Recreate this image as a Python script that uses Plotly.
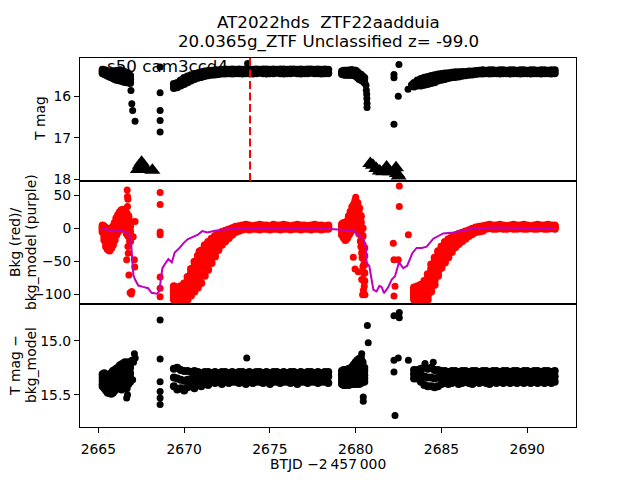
import plotly.graph_objects as go
from plotly.subplots import make_subplots

# ---- time grids of the dense light-curve segments (BTJD - 2457000) ----
t1 = [2665.25, 2665.35, 2665.45, 2665.55, 2665.65, 2665.75, 2665.85, 2665.95, 2666.05, 2666.15,
      2666.25, 2666.35, 2666.45, 2666.55, 2666.65, 2666.75, 2666.85]
t2 = [2669.4, 2669.6, 2669.8, 2670.0, 2670.2, 2670.4, 2670.6, 2670.8, 2671.0, 2671.2,
      2671.4, 2671.6, 2671.8, 2672.0, 2672.2, 2672.4, 2672.6, 2672.8, 2673.0, 2673.2,
      2673.4, 2673.6, 2673.8, 2674.0, 2674.2, 2674.4, 2674.6, 2674.8, 2675.0, 2675.2,
      2675.4, 2675.6, 2675.8, 2676.0, 2676.2, 2676.4, 2676.6, 2676.8, 2677.0, 2677.2,
      2677.4, 2677.6, 2677.8, 2678.0, 2678.2, 2678.4]
t3 = [2679.2, 2679.3, 2679.4, 2679.5, 2679.6, 2679.7, 2679.8, 2679.9, 2680.0, 2680.1,
      2680.2, 2680.3, 2680.4, 2680.5]
t4 = [2683.4, 2683.6, 2683.8, 2684.0, 2684.2, 2684.4, 2684.6, 2684.8, 2685.0, 2685.2,
      2685.4, 2685.6, 2685.8, 2686.0, 2686.2, 2686.4, 2686.6, 2686.8, 2687.0, 2687.2,
      2687.4, 2687.6, 2687.8, 2688.0, 2688.2, 2688.4, 2688.6, 2688.8, 2689.0, 2689.2,
      2689.4, 2689.6, 2689.8, 2690.0, 2690.2, 2690.4, 2690.6, 2690.8, 2691.0, 2691.2,
      2691.4, 2691.6]

# ---- panel 1: T mag ----
mag1_a = [15.36, 15.37, 15.38, 15.40, 15.42, 15.42, 15.41, 15.40, 15.39, 15.38,
          15.37, 15.38, 15.40, 15.42, 15.44, 15.46, 15.50]
mag1_b = [15.40, 15.41, 15.43, 15.45, 15.47, 15.48, 15.49, 15.49, 15.50, 15.49,
          15.50, 15.50, 15.52, 15.54, 15.55, 15.56, 15.59]
mag1_c = [15.44, 15.46, 15.48, 15.50, 15.52, 15.54, 15.56, 15.58, 15.60, 15.60,
          15.62, 15.62, 15.64, 15.65, 15.66, 15.66, 15.68]
mag2_a = [15.70, 15.68, 15.62, 15.56, 15.52, 15.49, 15.46, 15.44, 15.42, 15.40,
          15.39, 15.38, 15.37, 15.37, 15.36, 15.35, 15.36, 15.35, 15.36, 15.35,
          15.36, 15.35, 15.35, 15.36, 15.35, 15.36, 15.35, 15.35, 15.36, 15.35,
          15.36, 15.35, 15.35, 15.36, 15.35, 15.35, 15.36, 15.35, 15.36, 15.35,
          15.35, 15.36, 15.35, 15.36, 15.35, 15.36]
mag2_b = [15.80, 15.78, 15.74, 15.70, 15.66, 15.62, 15.58, 15.55, 15.53, 15.51,
          15.49, 15.48, 15.47, 15.46, 15.45, 15.45, 15.44, 15.45, 15.44, 15.44,
          15.45, 15.44, 15.44, 15.45, 15.44, 15.43, 15.44, 15.45, 15.44, 15.44,
          15.43, 15.44, 15.45, 15.44, 15.44, 15.43, 15.44, 15.45, 15.44, 15.44,
          15.43, 15.44, 15.44, 15.45, 15.44, 15.44]
mag3_a = [15.40, 15.38, 15.38, 15.38, 15.38, 15.37, 15.37, 15.38, 15.38, 15.42,
          15.46, 15.48, 15.52, 15.56]
mag3_b = [15.46, 15.47, 15.48, 15.48, 15.48, 15.48, 15.48, 15.49, 15.50, 15.54,
          15.58, 15.60, 15.62, 15.66]
mag4_a = [15.68, 15.62, 15.58, 15.55, 15.53, 15.51, 15.49, 15.47, 15.46, 15.45,
          15.44, 15.43, 15.42, 15.42, 15.41, 15.41, 15.40, 15.40, 15.39, 15.38,
          15.37, 15.38, 15.37, 15.37, 15.38, 15.37, 15.37, 15.38, 15.37, 15.37,
          15.38, 15.37, 15.37, 15.38, 15.37, 15.37, 15.38, 15.37, 15.37, 15.38,
          15.37, 15.37]
mag4_b = [15.76, 15.74, 15.74, 15.72, 15.70, 15.68, 15.66, 15.62, 15.60, 15.58,
          15.56, 15.54, 15.53, 15.52, 15.50, 15.49, 15.48, 15.47, 15.46, 15.45,
          15.45, 15.44, 15.45, 15.44, 15.44, 15.45, 15.44, 15.44, 15.45, 15.44,
          15.44, 15.45, 15.44, 15.44, 15.45, 15.44, 15.44, 15.45, 15.44, 15.44,
          15.45, 15.44]
mag4_rise = [15.72, 15.68, 15.66, 15.63, 15.61, 15.59, 15.57, 15.55, 15.53, 15.51]
mag_x_extra = [2666.9, 2666.95, 2667.0, 2667.14, 2668.6, 2668.6, 2668.6, 2668.6, 2668.6, 2673.7,
               2680.6, 2680.62, 2680.64, 2680.65, 2680.66, 2680.66, 2682.52, 2682.23, 2682.23,
               2682.48, 2682.23, 2683.05, 2683.25]
mag_y_extra = [15.86, 16.18, 16.34, 16.6, 15.29, 15.91, 16.34, 16.58, 16.86, 15.21,
               15.73, 15.85, 15.95, 16.05, 16.17, 16.27, 15.23, 15.47, 15.55,
               16.0, 16.67, 15.83, 15.72]
lim_x = [2667.3, 2667.42, 2667.52, 2667.62, 2667.72, 2668.15,
         2680.85, 2681.0, 2681.2, 2681.4, 2681.6, 2681.8, 2682.0, 2682.35, 2682.4, 2682.5]
lim_y = [17.76, 17.66, 17.59, 17.66, 17.76, 17.78,
         17.62, 17.66, 17.74, 17.8, 17.82, 17.7, 17.82, 17.72, 17.86, 17.92]
zoom_epoch = 2673.84

# ---- panel 2: background flux (red) and background model (purple) ----
bkg1_a = [4, 2, 0, -2, -5, -3, 2, 8, 15, 20, 24, 27, 28, 26, 22, 18, 10]
bkg1_b = [2, -3, -8, -10, -12, -10, -4, 2, 8, 14, 18, 21, 22, 20, 16, 12, 3]
bkg1_c = [0, -8, -15, -18, -20, -16, -10, -5, 2, 8, 12, 15, 16, 14, 10, 5, -5]
bkg1_d = [-3, -13, -22, -25, -27, -23, -18, -12, -4, 2, 6, 8, 8, 6, 1, -4, -12]
bkg1_e = [-6, -18, -28, -32, -34, -30, -25, -18, -10, -5, 0, 2, 0, -2, -8, -12, -20]
bkg2_a = [-88, -90, -88, -84, -74, -62, -51, -42, -34, -26,
          -21, -16, -12, -9, -6, -4, -2, 0, 2, 3,
          4, 5, 4, 3, 4, 5, 4, 4, 3, 5,
          4, 4, 5, 4, 3, 4, 5, 4, 4, 3,
          4, 5, 4, 4, 3, 4]
bkg2_b = [-95, -96, -95, -92, -85, -75, -64, -55, -46, -38,
          -31, -25, -20, -16, -12, -8, -5, -3, -1, 1,
          2, 3, 2, 2, 3, 2, 2, 3, 2, 2,
          3, 2, 2, 3, 2, 2, 3, 2, 2, 3,
          2, 2, 3, 2, 2, 3]
bkg2_c = [-102, -102, -102, -100, -97, -88, -79, -70, -60, -52,
          -44, -36, -29, -23, -18, -13, -9, -6, -3, -2,
          0, 1, 0, 1, 0, 0, 1, 0, 1, 0,
          0, 1, 0, 1, 0, 0, 1, 0, 1, 0,
          0, 1, 0, 1, 0, 0]
bkg2_d = [-108, -108, -109, -109, -108, -102, -96, -90, -83, -72,
          -63, -53, -43, -33, -25, -20, -15, -10, -6, -4,
          -2, -1, -2, -1, -1, -2, -1, -1, -2, -1,
          -1, -2, -1, -1, -2, -1, -1, -2, -1, -1,
          -2, -1, -1, -2, -1, -1]
# extra rows filling the rising part of segment 2 (first 20 epochs of t2)
bkg2_r1 = [-92, -93, -92, -88, -80, -68, -58, -48, -40, -32, -26, -20, -16, -12, -9, -6, -3, -1, 1, 2]
bkg2_r2 = [-98, -99, -98, -96, -91, -82, -72, -62, -53, -45, -38, -30, -24, -20, -15, -10, -7, -4, -2, 0]
bkg2_r3 = [-105, -105, -106, -105, -103, -95, -88, -80, -72, -62, -54, -45, -36, -28, -22, -17, -12, -8, -5, -3]
bkg3_a = [6, 8, 5, 10, 18, 25, 32, 36, 40, 38, 30, 18, 0, -30]
bkg3_b = [2, 2, 0, 4, 11, 18, 24, 28, 32, 30, 21, 9, -12, -42]
bkg3_c = [-2, -4, -6, -3, 4, 10, 16, 20, 24, 22, 12, 0, -25, -55]
bkg3_d = [-6, -9, -12, -9, -3, 2, 7, 11, 14, 11, 2, -10, -35, -68]
bkg3_e = [-10, -14, -18, -15, -10, -6, -2, 2, 4, 0, -8, -20, -45, -80]
bkg4_a = [-90, -88, -86, -80, -70, -55, -45, -35, -28, -21,
          -17, -14, -11, -9, -7, -5, -3, -1, 1, 2,
          3, 4, 5, 4, 4, 5, 4, 3, 4, 5,
          4, 4, 5, 4, 3, 4, 5, 4, 4, 5,
          4, 4]
bkg4_b = [-96, -95, -94, -90, -82, -68, -58, -47, -38, -30,
          -24, -20, -16, -13, -10, -8, -6, -4, -2, 0,
          1, 3, 2, 3, 3, 2, 3, 3, 2, 3,
          3, 2, 3, 3, 2, 3, 3, 2, 3, 3,
          2, 3]
bkg4_c = [-102, -102, -102, -100, -95, -82, -72, -60, -48, -40,
          -33, -27, -22, -18, -14, -11, -9, -6, -4, -2,
          -1, 1, 1, 0, 1, 1, 0, 1, 1, 0,
          1, 1, 0, 1, 1, 0, 1, 1, 0, 1,
          1, 0]
bkg4_d = [-108, -109, -110, -110, -108, -96, -86, -72, -60, -52,
          -44, -36, -29, -24, -20, -16, -12, -9, -6, -5,
          -4, -1, 0, -1, -1, 0, -1, -1, 0, -1,
          -1, 0, -1, -1, 0, -1, -1, 0, -1, -1,
          0, -1]
# extra rows filling the rising part of segment 4 (first 21 epochs of t4)
bkg4_r1 = [-93, -92, -90, -85, -76, -62, -52, -41, -33, -26, -20, -17, -13, -11, -8, -6, -4, -2, 0, 1, 2]
bkg4_r2 = [-99, -98, -98, -95, -88, -75, -65, -54, -43, -35, -28, -23, -19, -15, -12, -10, -7, -5, -3, -1, 0]
bkg4_r3 = [-105, -106, -106, -105, -102, -89, -79, -66, -54, -46, -38, -31, -25, -21, -17, -13, -10, -8, -5, -3, -2]
bkg_x_extra = [2666.68, 2666.7, 2666.72, 2666.7, 2666.72, 2666.74, 2666.65, 2666.78, 2666.85, 2666.92,
               2666.95, 2667.03, 2667.14, 2667.1, 2667.12,
               2668.6, 2668.6, 2668.6, 2668.6, 2668.6, 2668.6, 2668.6, 2670.87,
               2679.95, 2680.0, 2679.86, 2679.96, 2680.15, 2680.35, 2680.45, 2680.4, 2680.54, 2680.5,
               2680.3, 2680.35, 2680.42, 2680.48,
               2682.19, 2682.23, 2682.48, 2682.29, 2682.23, 2682.54, 2682.54, 2683.07, 2685.59]
bkg_y_extra = [58, 48, 44, 33, -28, -38, -48, -71, -98, -100,
               -96, -13, 10, -48, -59,
               54, 36, -6, -10, -74, -91, -104, -35,
               42, 47, -44, -62, -66, -78, -94, -101, -101, -88,
               -28, -38, -58, -68,
               -23, -48, -48, -88, -103, 64, 33, -10, -13]
model_t = [2665.2, 2665.5, 2665.8, 2666.0, 2666.2, 2666.4, 2666.6, 2666.8, 2666.9, 2666.98,
           2667.04, 2667.14, 2667.33, 2667.6, 2667.9, 2668.1, 2668.4, 2668.55, 2668.63, 2668.73,
           2668.89, 2669.08, 2669.28, 2669.45, 2669.7, 2669.95, 2670.2, 2670.45, 2670.8, 2671.05,
           2671.35, 2671.8, 2672.5, 2673.0, 2674.0, 2675.0, 2676.0, 2677.0, 2678.0, 2678.5,
           2679.18, 2679.86, 2680.25, 2680.44, 2680.58, 2680.64, 2680.79, 2680.89, 2681.03, 2681.22,
           2681.38, 2681.52, 2681.65, 2681.9, 2682.1, 2682.29, 2682.52, 2682.77, 2683.0, 2683.3,
           2683.55, 2683.85, 2684.14, 2684.52, 2685.1, 2685.69, 2686.27, 2686.85, 2688.2, 2689.57,
           2691.6]
model_v = [0, -1.5, -4, -5, -3.5, -4, -7.5, -8.5, -20, -53,
           -71, -78, -87, -89, -91, -98, -99.5, -96, -78, -61,
           -54, -47, -52, -37, -31, -23, -17, -14, -10, -4.5,
           -6.5, -4, -1.5, -1, -0.5, 0, 0.5, 0, -0.5, -1,
           -2.6, -4, -11.7, -16.7, -28, -53, -57, -71, -93.5, -96,
           -87.4, -89.4, -98.5, -89.4, -78, -73, -52, -60.6, -57, -38,
           -30, -30, -28, -16, -8, -6.5, -3, -0.5, 1, 0.5,
           0]

# ---- panel 3: T mag - bkg_model ----
cor1_a = [15.31, 15.30, 15.32, 15.33, 15.32, 15.30, 15.28, 15.27, 15.26, 15.25,
          15.23, 15.22, 15.21, 15.20, 15.21, 15.20, 15.21]
cor1_b = [15.34, 15.35, 15.36, 15.37, 15.37, 15.35, 15.33, 15.31, 15.30, 15.29,
          15.27, 15.27, 15.26, 15.25, 15.26, 15.25, 15.25]
cor1_c = [15.37, 15.38, 15.40, 15.41, 15.41, 15.40, 15.38, 15.36, 15.34, 15.33,
          15.32, 15.32, 15.31, 15.30, 15.31, 15.30, 15.30]
cor1_d = [15.40, 15.41, 15.43, 15.45, 15.44, 15.45, 15.43, 15.41, 15.39, 15.38,
          15.38, 15.39, 15.37, 15.36, 15.38, 15.35, 15.34]
cor1_e = [15.42, 15.44, 15.46, 15.48, 15.48, 15.49, 15.48, 15.46, 15.44, 15.44,
          15.43, 15.45, 15.44, 15.42, 15.44, 15.40, 15.38]
cor2_a = [15.26, 15.25, 15.27, 15.28, 15.28, 15.29, 15.28, 15.29, 15.30, 15.29,
          15.29, 15.30, 15.29, 15.30, 15.29, 15.29, 15.30, 15.29, 15.30, 15.29,
          15.29, 15.30, 15.29, 15.30, 15.29, 15.29, 15.30, 15.29, 15.30, 15.29,
          15.29, 15.30, 15.29, 15.30, 15.29, 15.29, 15.30, 15.29, 15.30, 15.29,
          15.29, 15.30, 15.29, 15.30, 15.29, 15.29]
cor2_b = [15.34, 15.35, 15.36, 15.37, 15.36, 15.36, 15.35, 15.34, 15.34, 15.35,
          15.34, 15.34, 15.33, 15.34, 15.34, 15.33, 15.34, 15.34, 15.33, 15.34,
          15.34, 15.33, 15.34, 15.34, 15.33, 15.34, 15.34, 15.33, 15.34, 15.34,
          15.33, 15.34, 15.34, 15.33, 15.34, 15.34, 15.33, 15.34, 15.34, 15.33,
          15.34, 15.34, 15.33, 15.34, 15.34, 15.33]
cor2_c = [15.42, 15.45, 15.44, 15.46, 15.43, 15.41, 15.44, 15.40, 15.42, 15.39,
          15.41, 15.38, 15.39, 15.38, 15.40, 15.38, 15.39, 15.38, 15.38, 15.39,
          15.38, 15.40, 15.38, 15.39, 15.38, 15.38, 15.39, 15.38, 15.40, 15.38,
          15.38, 15.39, 15.38, 15.38, 15.39, 15.38, 15.40, 15.38, 15.38, 15.39,
          15.38, 15.38, 15.39, 15.38, 15.38, 15.39]
cor3_a = [15.28, 15.27, 15.27, 15.27, 15.26, 15.26, 15.24, 15.22, 15.20, 15.18,
          15.17, 15.16, 15.20, 15.25]
cor3_b = [15.31, 15.30, 15.30, 15.30, 15.29, 15.29, 15.28, 15.26, 15.25, 15.24,
          15.22, 15.22, 15.25, 15.28]
cor3_c = [15.34, 15.34, 15.34, 15.33, 15.33, 15.33, 15.32, 15.31, 15.30, 15.30,
          15.28, 15.28, 15.30, 15.32]
cor3_d = [15.37, 15.38, 15.37, 15.37, 15.37, 15.37, 15.36, 15.35, 15.35, 15.34,
          15.34, 15.33, 15.34, 15.35]
cor3_e = [15.40, 15.41, 15.41, 15.40, 15.41, 15.40, 15.40, 15.40, 15.40, 15.39,
          15.40, 15.39, 15.38, 15.38]
cor4_a = [15.27, 15.27, 15.26, 15.25, 15.26, 15.25, 15.27, 15.27, 15.28, 15.28,
          15.29, 15.28, 15.28, 15.29, 15.28, 15.28, 15.29, 15.28, 15.28, 15.29,
          15.28, 15.28, 15.29, 15.28, 15.28, 15.29, 15.28, 15.28, 15.29, 15.28,
          15.28, 15.29, 15.28, 15.28, 15.29, 15.28, 15.28, 15.29, 15.28, 15.28,
          15.29, 15.28]
cor4_b = [15.31, 15.31, 15.32, 15.33, 15.34, 15.34, 15.35, 15.34, 15.34, 15.33,
          15.34, 15.33, 15.34, 15.34, 15.33, 15.34, 15.34, 15.33, 15.34, 15.34,
          15.33, 15.34, 15.34, 15.33, 15.34, 15.34, 15.33, 15.34, 15.34, 15.33,
          15.34, 15.34, 15.33, 15.34, 15.34, 15.33, 15.34, 15.34, 15.33, 15.34,
          15.34, 15.33]
cor4_c = [15.35, 15.35, 15.38, 15.41, 15.42, 15.42, 15.43, 15.42, 15.40, 15.39,
          15.40, 15.39, 15.38, 15.40, 15.39, 15.38, 15.39, 15.40, 15.38, 15.39,
          15.38, 15.39, 15.40, 15.38, 15.39, 15.38, 15.39, 15.38, 15.39, 15.38,
          15.39, 15.38, 15.39, 15.38, 15.39, 15.38, 15.39, 15.38, 15.39, 15.38,
          15.39, 15.38]
cor_x_extra = [2666.95, 2667.05, 2667.1, 2667.15, 2666.65, 2666.7, 2667.0,
               2668.6, 2668.6, 2668.6, 2668.6, 2668.6, 2668.6, 2673.65,
               2680.35, 2680.73, 2680.68, 2680.44, 2680.44,
               2682.23, 2682.54, 2682.54, 2682.23, 2682.48, 2682.23, 2682.29, 2683.07,
               2684.04, 2684.52]
cor_y_extra = [15.18, 15.2, 15.12, 15.16, 15.53, 15.5, 15.36,
               14.81, 15.17, 15.38, 15.47, 15.53, 15.59, 15.16,
               15.12, 15.02, 14.86, 15.52, 15.56,
               14.77, 14.74, 14.79, 15.18, 15.16, 15.29, 15.69, 15.18,
               15.21, 15.2]


def band(pieces):
    """Flatten (times, [rows...]) pieces into x/y lists."""
    xs, ys = [], []
    for t, rows in pieces:
        for r in rows:
            assert len(r) == len(t), (len(r), len(t))
            xs += t
            ys += r
    return xs, ys


mag_x, mag_y = band([(t1, [mag1_a, mag1_b, mag1_c]), (t2, [mag2_a, mag2_b]),
                     (t3, [mag3_a, mag3_b]), (t4, [mag4_a, mag4_b]),
                     (t4[:10], [mag4_rise])])
bkg_x, bkg_y = band([(t1, [bkg1_a, bkg1_b, bkg1_c, bkg1_d, bkg1_e]),
                     (t2, [bkg2_a, bkg2_b, bkg2_c, bkg2_d]),
                     (t2[:20], [bkg2_r1, bkg2_r2, bkg2_r3]),
                     (t3, [bkg3_a, bkg3_b, bkg3_c, bkg3_d, bkg3_e]),
                     (t4, [bkg4_a, bkg4_b, bkg4_c, bkg4_d]),
                     (t4[:21], [bkg4_r1, bkg4_r2, bkg4_r3])])
cor_x, cor_y = band([(t1, [cor1_a, cor1_b, cor1_c, cor1_d, cor1_e]),
                     (t2, [cor2_a, cor2_b, cor2_c]),
                     (t3, [cor3_a, cor3_b, cor3_c, cor3_d, cor3_e]),
                     (t4, [cor4_a, cor4_b, cor4_c])])

FONT = "DejaVu Sans"
fig = make_subplots(rows=3, cols=1, shared_xaxes=True, vertical_spacing=0)


def dots(x, y, color, size, row):
    fig.add_trace(go.Scatter(x=x, y=y, mode="markers", marker=dict(color=color, size=size),
                             showlegend=False), row=row, col=1)


dots(mag_x, mag_y, "black", 8, 1)
dots(mag_x_extra, mag_y_extra, "black", 7, 1)
fig.add_trace(go.Scatter(x=lim_x, y=lim_y, mode="markers",
                         marker=dict(color="black", size=14, symbol="triangle-up"),
                         showlegend=False), row=1, col=1)
dots(bkg_x, bkg_y, "#ff0000", 8, 2)
dots(bkg_x_extra, bkg_y_extra, "#ff0000", 7, 2)
fig.add_trace(go.Scatter(x=model_t, y=model_v, mode="lines",
                         line=dict(color="#bf00bf", width=2), showlegend=False), row=2, col=1)
dots(cor_x, cor_y, "black", 8, 3)
dots(cor_x_extra, cor_y_extra, "black", 7, 3)

fig.add_shape(type="line", xref="x", yref="y domain", x0=zoom_epoch, x1=zoom_epoch, y0=0, y1=1,
              line=dict(color="red", width=2, dash="8px,3.5px"))

axis_style = dict(showline=True, linecolor="black", linewidth=1, mirror=True, automargin=False,
                  showgrid=False, zeroline=False, ticks="outside", ticklen=5, tickwidth=1,
                  tickcolor="black", tickfont=dict(family=FONT, size=13.9, color="black"))
fig.update_xaxes(**axis_style, range=[2663.93, 2692.84])
fig.update_xaxes(ticks="", showticklabels=False, row=1, col=1)
fig.update_xaxes(ticks="", showticklabels=False, row=2, col=1)
fig.update_xaxes(dtick=5, tick0=2665, ticklabelstandoff=4, row=3, col=1)
fig.update_yaxes(**axis_style)
fig.update_yaxes(range=[18.04, 15.075], dtick=1, tick0=0, row=1, col=1)
fig.update_yaxes(range=[-115, 71.5], dtick=50, tick0=0, row=2, col=1)
fig.update_yaxes(range=[15.797, 14.662], dtick=0.5, tick0=15, tickformat=".1f", row=3, col=1)

# the page body adds an 8 px offset; plot area must land on page pixels 80..576 x 58..427
OFF = 8
PT, PB = 58, 427
T, B = PT - OFF, 480 - PB + OFF
H = PB - PT


def py(p):
    return (PB - p) / H


ann = []
ann.append(dict(text="AT2022hds  ZTF22aadduia", x=0.5, y=1, yshift=PT - 21.8, xref="paper",
                yref="paper", showarrow=False, font=dict(family=FONT, size=16.7, color="black"),
                xanchor="center", yanchor="middle"))
ann.append(dict(text="20.0365g_ZTF Unclassified z= -99.0", x=0.5, y=1, yshift=PT - 41,
                xref="paper", yref="paper", showarrow=False,
                font=dict(family=FONT, size=16.7, color="black"), xanchor="center", yanchor="middle"))
ann.append(dict(text="s50 cam3ccd4", x=2665.39, y=py(65.6), xref="x", yref="paper",
                showarrow=False, font=dict(family=FONT, size=16.7, color="black"),
                xanchor="left", yanchor="middle"))
for txt, xc, yc in [("T mag", 40, 119), ("Bkg (red)/", 14.5, 242.5),
                    ("bkg_model (purple)", 30.5, 242.5), ("T mag \u2212", 14.5, 365.5),
                    ("bkg_model", 30.5, 365.5)]:
    ann.append(dict(text=txt, x=0, xshift=xc - 80, y=py(yc), xref="paper", yref="paper",
                    showarrow=False, textangle=-90, xanchor="center", yanchor="middle",
                    font=dict(family=FONT, size=13.9, color="black")))
ann.append(dict(text="BTJD \u22122\u2009457\u2009000", x=0.5, y=0, yshift=PB - 464,
                xref="paper", yref="paper", showarrow=False, xanchor="center", yanchor="middle",
                font=dict(family=FONT, size=13.9, color="black")))

fig.update_layout(width=640, height=480, margin=dict(l=80 - OFF, r=640 - 576 + OFF, t=T, b=B),
                  plot_bgcolor="white", paper_bgcolor="white", annotations=ann,
                  font=dict(family=FONT, color="black"))
fig.write_html("out.html")
